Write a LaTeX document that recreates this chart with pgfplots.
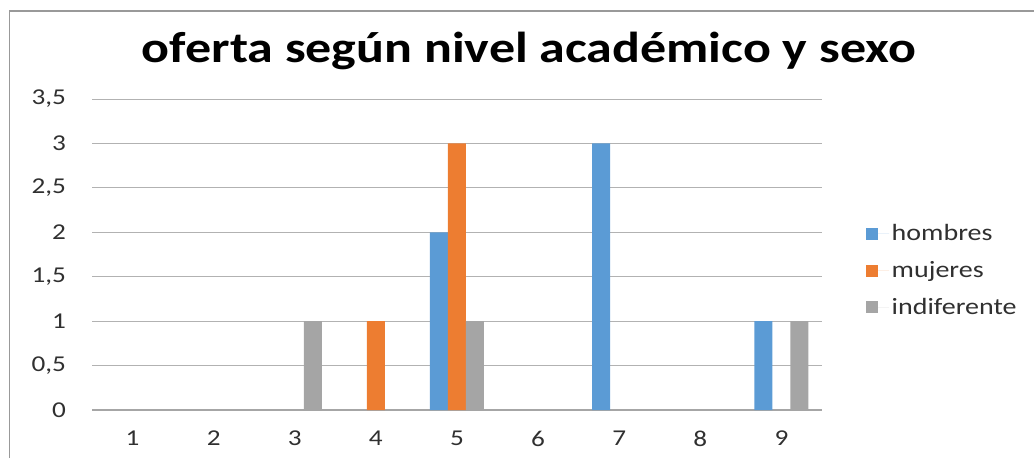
\documentclass[border=0pt]{standalone}
\usepackage{pgfplots}
\pgfplotsset{compat=1.18}
\usepackage{fontspec}
\setmainfont[FakeStretch=1.2]{Carlito}
\definecolor{hom}{HTML}{5B9BD5}
\definecolor{muj}{HTML}{ED7D31}
\definecolor{ind}{HTML}{A5A5A5}
\definecolor{txt}{HTML}{303030}
\begin{document}
\begin{tikzpicture}
\useasboundingbox (0,0) rectangle (775.5pt,-343.5pt);
\draw[gray!80, line width=0.9pt] (7pt,-343.5pt) -- (7pt,-8.25pt) -- (775.5pt,-8.25pt);
\node[font=\fontsize{32.5}{36}\selectfont\bfseries, text=black] at (396.75pt,-38pt) {oferta según nivel académico y sexo};
\begin{axis}[
  at={(69pt,-307.5pt)}, anchor=south west,
  scale only axis, width=547.5pt, height=233.25pt,
  xmin=0.5, xmax=9.5, ymin=0, ymax=3.5,
  ybar=0pt, bar width=13.5pt,
  xtick={1,...,9}, ytick={0,0.5,...,3.5},
  axis x line*=bottom, axis y line*=left,
  x axis line style={draw=gray!70, line width=0.8pt, -},
  y axis line style={draw=none},
  ymajorgrids, grid style={gray!60, line width=0.7pt},
  major tick length=0pt,
  tick label style={font=\fontsize{17}{19}\selectfont, text=txt},
  /pgf/number format/assume math mode=true,
  yticklabel style={xshift=-16pt, /pgf/number format/.cd, use comma, fixed, precision=1},
  xticklabel style={yshift=-12pt},
  legend style={at={(1.055,0.614)}, anchor=north west, draw=none, fill=none,
    font=\fontsize{17.5}{19}\selectfont, text=txt, row sep=10pt,
    legend cell align=left},
  legend image code/.code={\fill[#1] (0pt,-4.5pt) rectangle (9pt,4.5pt); \path (0pt,0pt) -- (17pt,0pt);},
]
\addplot[draw=none, fill=hom] coordinates {(5,2) (7,3) (9,1)};
\addplot[draw=none, fill=muj] coordinates {(4,1) (5,3)};
\addplot[draw=none, fill=ind] coordinates {(3,1) (5,1) (9,1)};
\legend{hombres, mujeres, indiferente}
\end{axis}
\end{tikzpicture}
\end{document}
